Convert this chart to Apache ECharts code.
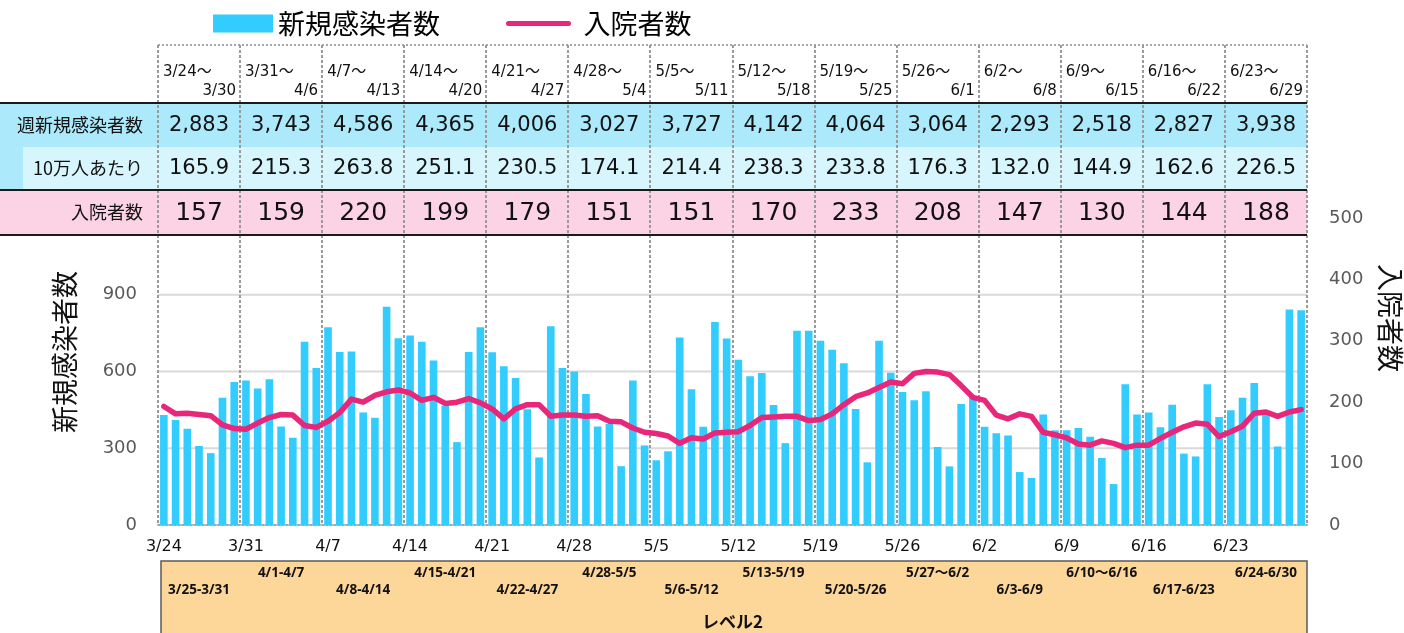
<!DOCTYPE html>
<html lang="ja">
<head>
<meta charset="UTF-8">
<title>新規感染者数と入院者数</title>
<script src="https://cdn.jsdelivr.net/npm/echarts@6/dist/echarts.min.js"></script>
<style>
  html, body { margin: 0; padding: 0; background: #fff; }
  #main { width: 1404px; height: 633px; }
</style>
</head>
<body>
<div id="main"></div>
<script type="text/javascript">
// 日別データ (3/24〜6/29)
var dates = [
  '3/24','3/25','3/26','3/27','3/28','3/29','3/30','3/31',
  '4/1','4/2','4/3','4/4','4/5','4/6','4/7','4/8','4/9','4/10','4/11','4/12','4/13','4/14','4/15',
  '4/16','4/17','4/18','4/19','4/20','4/21','4/22','4/23','4/24','4/25','4/26','4/27','4/28','4/29','4/30',
  '5/1','5/2','5/3','5/4','5/5','5/6','5/7','5/8','5/9','5/10','5/11','5/12','5/13','5/14','5/15','5/16',
  '5/17','5/18','5/19','5/20','5/21','5/22','5/23','5/24','5/25','5/26','5/27','5/28','5/29','5/30','5/31',
  '6/1','6/2','6/3','6/4','6/5','6/6','6/7','6/8','6/9','6/10','6/11','6/12','6/13','6/14','6/15',
  '6/16','6/17','6/18','6/19','6/20','6/21','6/22','6/23','6/24','6/25','6/26','6/27','6/28','6/29'
];
var newCases = [
  430,410,376,309,281,497,559,
  565,534,570,385,341,716,614,
  773,676,678,440,419,853,730,
  741,716,643,467,324,676,773,
  675,621,575,452,264,777,614,
  600,512,385,395,230,565,311,
  253,288,733,531,384,793,729,
  646,581,594,469,320,759,759,
  720,685,632,453,245,720,595,
  520,488,523,305,229,473,500,
  384,359,350,207,184,432,370,
  370,379,345,262,160,550,432,
  440,382,470,279,268,550,422,
  449,497,555,445,307,842,839
];
var hospitalized = [
  193,181,182,180,178,163,157,
  156,166,175,180,179,162,159,
  169,183,205,200,211,217,220,
  215,203,208,198,200,206,199,
  189,173,189,196,196,177,179,
  179,177,178,169,168,158,151,
  149,145,133,142,140,150,151,
  152,162,175,176,177,177,170,
  172,181,196,209,215,224,233,
  230,247,250,249,245,227,208,
  203,179,173,181,177,151,147,
  142,132,130,137,133,126,130,
  130,141,151,160,166,164,144,
  152,161,182,184,177,184,188
];

// 週ごとの表
var weekStart = ['3/24','3/31','4/7','4/14','4/21','4/28','5/5','5/12','5/19','5/26','6/2','6/9','6/16','6/23'];
var weekEnd = ['3/30','4/6','4/13','4/20','4/27','5/4','5/11','5/18','5/25','6/1','6/8','6/15','6/22','6/29'];
var weeklyCases = [2883,3743,4586,4365,4006,3027,3727,4142,4064,3064,2293,2518,2827,3938];
var per100k = [165.9,215.3,263.8,251.1,230.5,174.1,214.4,238.3,233.8,176.3,132.0,144.9,162.6,226.5];
var weeklyHosp = [157,159,220,199,179,151,151,170,233,208,147,130,144,188];
var periodLabels = ['3/25-3/31','4/1-4/7','4/8-4/14','4/15-4/21','4/22-4/27','4/28-5/5','5/6-5/12',
  '5/13-5/19','5/20-5/26','5/27～6/2','6/3-6/9','6/10～6/16','6/17-6/23','6/24-6/30'];
var leftTicks = [300, 600, 900];

var NUM = 'DejaVu Sans, "Noto Sans CJK JP", sans-serif';
var JP = '"Noto Sans CJK JP", sans-serif';
var PINK = '#E8267A';

var myChart = echarts.init(document.getElementById('main'));

var option = {
  animation: false,
  textStyle: { fontFamily: NUM },
  legend: {
    left: 213,
    top: 10,
    padding: 0,
    itemWidth: 60,
    itemHeight: 18,
    itemGap: 66,
    textStyle: { fontSize: 27, color: '#000', fontFamily: JP },
    data: [
      { name: '新規感染者数', icon: 'rect' },
      {
        name: '入院者数',
        itemStyle: { opacity: 0 },
        lineStyle: { width: 5, color: PINK },
        textStyle: { padding: [0, 0, 0, 10] }
      }
    ]
  },
  grid: { left: 158, right: 97, top: 218, bottom: 108 },
  xAxis: {
    type: 'category',
    data: dates,
    axisTick: { show: false },
    axisLine: { lineStyle: { color: '#a6a6a6', width: 2, type: 'dotted' } },
    axisLabel: {
      interval: function (i) { return i % 7 === 0; },
      color: '#111',
      fontSize: 16,
      margin: 14
    },
    splitLine: { show: false }
  },
  yAxis: [
    {
      type: 'value', min: 0, max: 1200, interval: 300,
      axisLine: { show: false }, axisTick: { show: false },
      splitLine: { show: false },
      axisLabel: { color: '#595959', fontSize: 18, margin: 21, showMaxLabel: false }
    },
    {
      type: 'value', min: 0, max: 500, interval: 100, position: 'right',
      axisLine: { show: false }, axisTick: { show: false },
      splitLine: { show: false },
      axisLabel: { color: '#595959', fontSize: 18, margin: 22 }
    }
  ],
  series: [
    {
      name: '新規感染者数',
      type: 'bar',
      data: newCases,
      barCategoryGap: '35%',
      itemStyle: { color: '#33CCFF' },
      z: 2
    },
    {
      name: '入院者数',
      type: 'line',
      yAxisIndex: 1,
      data: hospitalized,
      symbol: 'none',
      lineStyle: { width: 5.5, color: PINK, join: 'round', cap: 'round' },
      itemStyle: { color: PINK },
      z: 3
    }
  ]
};
myChart.setOption(option);

// 表と枠は軸の位置から作る
var c0 = myChart.convertToPixel({ xAxisIndex: 0 }, dates[0]);
var c1 = myChart.convertToPixel({ xAxisIndex: 0 }, dates[1]);
var bw = c1 - c0;
var left0 = c0 - bw / 2;
function colLeft(k) { return left0 + k * 7 * bw; }
var rightX = colLeft(weekStart.length);
var yBase = myChart.convertToPixel({ yAxisIndex: 0 }, 0);

var g = [];
var dashed = { stroke: '#9a9a9a', lineWidth: 2, lineDash: [3, 2] };

// 背景
g.push({ type: 'rect', z: 10, shape: { x: 0, y: 103, width: rightX, height: 44 }, style: { fill: '#ABE9FB' } });
g.push({ type: 'rect', z: 10, shape: { x: 0, y: 147, width: 23, height: 43 }, style: { fill: '#ABE9FB' } });
g.push({ type: 'rect', z: 10, shape: { x: 23, y: 147, width: rightX - 23, height: 43 }, style: { fill: '#D6F5FD' } });
g.push({ type: 'rect', z: 10, shape: { x: 0, y: 190, width: rightX, height: 45 }, style: { fill: '#FCD3E4' } });
[103, 190, 235].forEach(function (y) {
  g.push({ type: 'line', z: 13, shape: { x1: 0, y1: y, x2: rightX, y2: y }, style: { stroke: '#1a1a1a', lineWidth: 2 } });
});

// 目盛り線
leftTicks.forEach(function (v) {
  var y = myChart.convertToPixel({ yAxisIndex: 0 }, v);
  g.push({ type: 'line', z: 0, shape: { x1: left0, y1: y, x2: rightX, y2: y }, style: { stroke: '#d9d9d9', lineWidth: 2 } });
});

// 週の区切り
g.push({ type: 'line', z: 12, shape: { x1: left0, y1: 45, x2: rightX, y2: 45 }, style: { stroke: '#a6a6a6', lineWidth: 2, lineDash: [2, 2] } });
for (var k = 0; k <= weekStart.length; k++) {
  var x = Math.round(colLeft(k));
  g.push({ type: 'line', z: 12, shape: { x1: x, y1: 45, x2: x, y2: 235 }, style: dashed });
  g.push({ type: 'line', z: 1, shape: { x1: x, y1: 235, x2: x, y2: yBase }, style: dashed });
}

// 行見出し
var rowLabels = [['週新規感染者数', 125], ['10万人あたり', 168], ['入院者数', 212]];
rowLabels.forEach(function (r) {
  g.push({ type: 'text', z: 14, style: { text: r[0], x: 143, y: r[1], font: '18px ' + JP, fill: '#111', textAlign: 'right', textVerticalAlign: 'middle' } });
});

// 表の値
weekStart.forEach(function (s, k) {
  var l = colLeft(k), r = colLeft(k + 1), cx = (l + r) / 2;
  g.push({ type: 'text', z: 14, style: { text: s + '～', x: l + 5, y: 72, font: '15px ' + NUM, fill: '#111', textAlign: 'left', textVerticalAlign: 'middle' } });
  g.push({ type: 'text', z: 14, style: { text: weekEnd[k], x: r - 4, y: 91, font: '15px ' + NUM, fill: '#111', textAlign: 'right', textVerticalAlign: 'middle' } });
  g.push({ type: 'text', z: 14, style: { text: weeklyCases[k].toLocaleString('en-US'), x: cx, y: 126, font: '21px ' + NUM, fill: '#111', textAlign: 'center', textVerticalAlign: 'middle' } });
  g.push({ type: 'text', z: 14, style: { text: per100k[k].toFixed(1), x: cx, y: 169, font: '21px ' + NUM, fill: '#111', textAlign: 'center', textVerticalAlign: 'middle' } });
  g.push({ type: 'text', z: 14, style: { text: String(weeklyHosp[k]), x: cx, y: 213, font: '25px ' + NUM, fill: '#111', textAlign: 'center', textVerticalAlign: 'middle' } });
});

// 下の期間ボックス
g.push({ type: 'rect', z: 5, shape: { x: left0 + 3, y: 561, width: rightX - left0 - 3, height: 80 }, style: { fill: '#FDD69A', stroke: '#595959', lineWidth: 1.5 } });
periodLabels.forEach(function (p, k) {
  var cx = (colLeft(k) + colLeft(k + 1)) / 2;
  g.push({ type: 'text', z: 6, style: { text: p, x: cx, y: k % 2 === 0 ? 590 : 573, font: 'bold 13.5px "Noto Sans", "Noto Sans CJK JP", sans-serif', fill: '#111', textAlign: 'center', textVerticalAlign: 'middle' } });
});
g.push({ type: 'text', z: 6, style: { text: 'レベル2', x: (left0 + rightX) / 2, y: 622, font: 'bold 17px ' + JP, fill: '#111', textAlign: 'center', textVerticalAlign: 'middle' } });

// 軸タイトル
g.push({ type: 'text', z: 6, x: 65, y: 352, rotation: Math.PI / 2, style: { text: '新規感染者数', x: 0, y: 0, font: '27px ' + JP, fill: '#111', textAlign: 'center', textVerticalAlign: 'middle' } });
g.push({ type: 'text', z: 6, x: 1390, y: 318, rotation: -Math.PI / 2, style: { text: '入院者数', x: 0, y: 0, font: '27px ' + JP, fill: '#111', textAlign: 'center', textVerticalAlign: 'middle' } });

myChart.setOption({ graphic: g });
</script>
</body>
</html>
